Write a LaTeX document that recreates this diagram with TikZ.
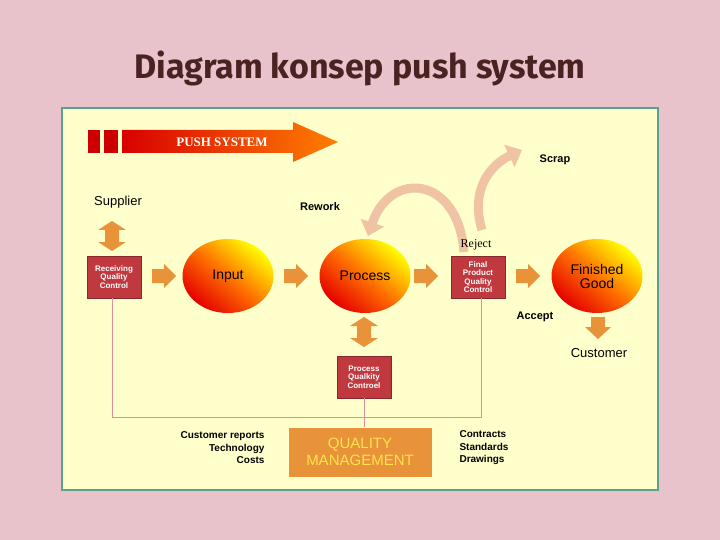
\documentclass[tikz,border=0pt]{standalone}
\usepackage{fontspec}
\setmainfont{Liberation Sans}
\newfontfamily\titlefont{Fira Sans}
\newfontfamily\serifb{Liberation Serif}
\usetikzlibrary{arrows.meta,shapes.geometric}
\definecolor{bgpink}{HTML}{E8C3CB}
\definecolor{panel}{HTML}{FFFFCC}
\definecolor{panelb}{HTML}{5BA08A}
\definecolor{boxred}{HTML}{C0393F}
\definecolor{arrorange}{HTML}{E8923A}
\definecolor{qm}{HTML}{E8923A}
\definecolor{linepink}{HTML}{E0909A}
\definecolor{peach}{HTML}{EFC3A3}
\definecolor{titlec}{HTML}{4B2222}
\tikzset{
 qbox/.style={draw=boxred!70!black,fill=boxred,text=white,font=\bfseries\fontsize{8}{8.5}\selectfont,align=center,inner sep=1pt,minimum width=54pt,minimum height=42pt},
 ball/.style={ellipse,minimum width=91pt,minimum height=74pt,inner sep=0pt,top color=yellow,bottom color=red!90!black,middle color=orange!90!red,shading angle=-40,font=\fontsize{14}{14}\selectfont,align=center},
 rarr/.style={fill=arrorange},
 lbl/.style={font=\bfseries\fontsize{11}{12}\selectfont},
 side/.style={font=\fontsize{10}{12.5}\selectfont\bfseries,align=left},
 conn/.style={draw=linepink,line width=1pt},
 bigcurve/.style={draw=peach,line width=9pt,-{Triangle[width=24pt,length=14pt]}},
}
\newcommand{\rightarr}[1]{\fill[rarr,shift={#1}] (-12,-7) -- (0,-7) -- (0,-12) -- (12,0) -- (0,12) -- (0,7) -- (-12,7) -- cycle;}
\newcommand{\updownarr}[1]{\fill[rarr,shift={#1}] (-7,-6) -- (-14,-6) -- (0,-15) -- (14,-6) -- (7,-6) -- (7,6) -- (14,6) -- (0,15) -- (-14,6) -- (-7,6) -- cycle;}
\begin{document}
\begin{tikzpicture}[x=1pt,y=-1pt]
\fill[bgpink] (0,0) rectangle (720,540);
\useasboundingbox (0,0) rectangle (720,540);
\node[font=\titlefont\bfseries\fontsize{34}{38}\selectfont,text=titlec] (title) at (360,68) {Diagram konsep push system};
\draw[fill=panel,draw=panelb,line width=1.5pt] (62,108) rectangle (658,490);
% push system banner
\fill[red!80!black] (88,130) rectangle (100,153);
\fill[red!80!black] (104,130) rectangle (118,153);
\shade[left color=red!85!black,right color=orange] (122,130) -- (293,130) -- (293,122) -- (338,142) -- (293,162) -- (293,153) -- (122,153) -- cycle;
\node[font=\serifb\bfseries\fontsize{13}{14}\selectfont,text=white] (push) at (222,142) {PUSH SYSTEM};
% curved arrows
\draw[bigcurve] (464,252) .. controls (458,175) and (390,170) .. (368,236);
\draw[bigcurve] (482,230) .. controls (470,190) and (490,165) .. (522,150);
% row
\node[font=\fontsize{13}{14}\selectfont] (supplier) at (118,202) {Supplier};
\updownarr{(112,236)}
\node[qbox] (rqc) at (114,277) {Receiving\\Quality\\Control};
\rightarr{(164,276)}
\node[ball] (input) at (228,276) {Input};
\rightarr{(296,276)}
\node[ball] (process) at (365,276) {Process};
\rightarr{(426,276)}
\node[qbox] (fpqc) at (478,277) {Final\\Product\\Quality\\Control};
\rightarr{(528,276)}
\node[ball] (fg) at (597,276) {Finished\\Good};
\node[font=\serifb\fontsize{12}{13}\selectfont] (reject) at (476,245) {Reject};
\node[lbl] (rework) at (320,207) {Rework};
\node[lbl] (scrap) at (555,160) {Scrap};
\node[lbl] (accept) at (535,317) {Accept};
\fill[rarr] (591,317) -- (605,317) -- (605,327) -- (611,327) -- (598,339) -- (585,327) -- (591,327) -- cycle;
\node[font=\fontsize{13}{14}\selectfont] (customer) at (599,353) {Customer};
\updownarr{(364,332)}
\node[qbox] (pqc) at (364,377) {Process\\Qualkity\\Controel};
% connectors
\coordinate (bl) at (112,417);
\coordinate (br) at (481,417);
\draw[conn] (rqc.south -| bl) -- (bl) -- (br) -- (fpqc.south -| br);
\node[fill=qm,minimum width=143pt,minimum height=49pt,font=\fontsize{15}{17}\selectfont,text=orange!30!yellow!70!white,align=center,inner sep=0pt] (qmbox) at (360,452) {QUALITY\\MANAGEMENT};
\draw[conn] (pqc.south) -- (pqc.south |- qmbox.north);
\node[side,align=right,anchor=east] (lefttxt) at (268,448) {Customer reports\\Technology\\Costs};
\node[side,anchor=west] (righttxt) at (456,448) {Contracts\\Standards\\Drawings};
\end{tikzpicture}
\end{document}
